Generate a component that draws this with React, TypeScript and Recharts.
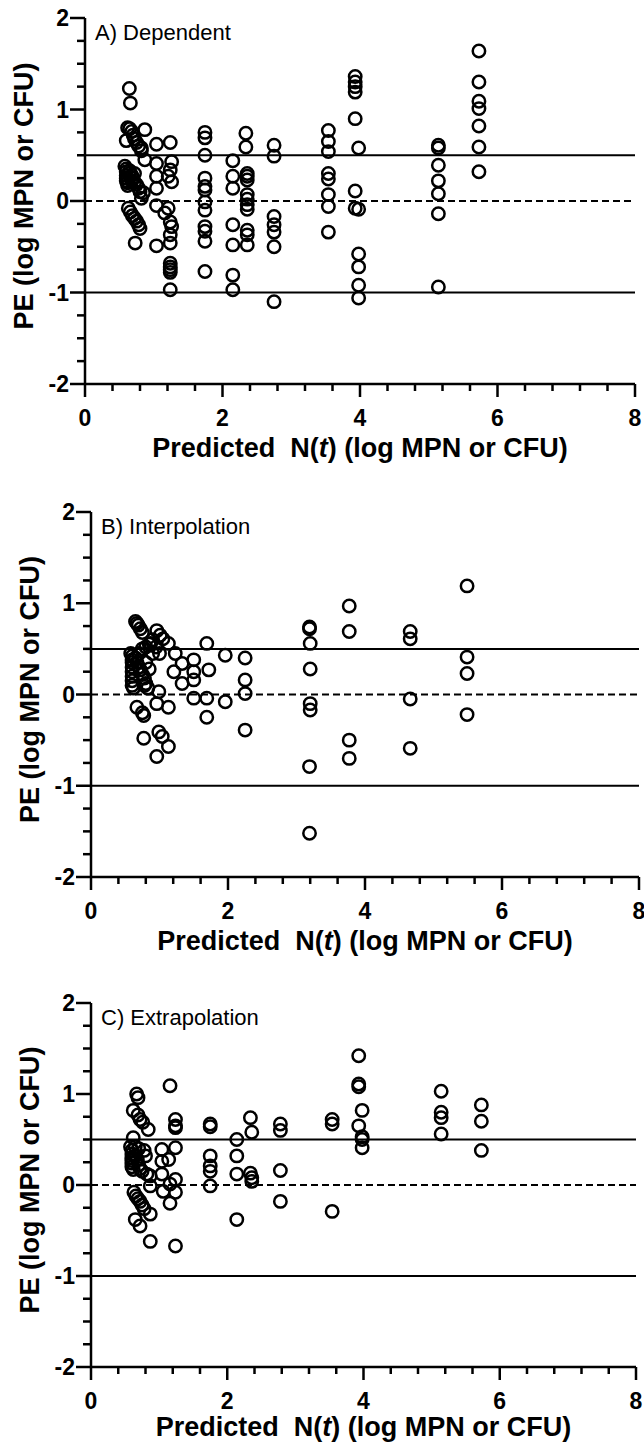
import React from "react";
import {
  Label,
  ReferenceLine,
  Scatter,
  ScatterChart,
  XAxis,
  YAxis,
} from "recharts";

// [predicted N(t), PE]
const dependent: number[][] = [
  [0.645, 1.23], [0.66, 1.07],
  [0.62, 0.8], [0.65, 0.79], [0.68, 0.76], [0.7, 0.72], [0.72, 0.68], [0.75, 0.64], [0.6, 0.66], [0.78, 0.6], [0.82, 0.55], [0.87, 0.78], [0.82, 0.58],
  [1.04, 0.62], [1.24, 0.64],
  [0.58, 0.38], [0.6, 0.35], [0.6, 0.32], [0.6, 0.28], [0.6, 0.25], [0.6, 0.22], [0.62, 0.2], [0.62, 0.17], [0.65, 0.33], [0.65, 0.3], [0.68, 0.28], [0.7, 0.25], [0.72, 0.2], [0.75, 0.18], [0.78, 0.14], [0.8, 0.1], [0.72, 0.3], [0.68, 0.22],
  [0.87, 0.45], [1.04, 0.41], [1.26, 0.43], [1.24, 0.34], [1.04, 0.27], [1.21, 0.27], [1.26, 0.21], [1.04, 0.14], [0.85, 0.09], [0.82, 0.03],
  [1.04, -0.05], [1.21, -0.08],
  [0.63, -0.08], [0.66, -0.12], [0.69, -0.16], [0.72, -0.19], [0.75, -0.22], [0.78, -0.26], [0.8, -0.3],
  [1.16, -0.13], [1.24, -0.23], [1.26, -0.28], [1.24, -0.37], [0.73, -0.46], [1.04, -0.49], [1.24, -0.46],
  [1.24, -0.68], [1.24, -0.72], [1.24, -0.75], [1.24, -0.78], [1.24, -0.97],
  [1.745, 0.75], [1.745, 0.69], [1.745, 0.5], [1.745, 0.25], [1.745, 0.16], [1.745, 0.12], [1.745, -0.01], [1.745, -0.1], [1.745, -0.28], [1.745, -0.33], [1.745, -0.44], [1.745, -0.77],
  [2.15, 0.44], [2.15, 0.27], [2.15, 0.14], [2.15, -0.26], [2.15, -0.48], [2.15, -0.81], [2.15, -0.97],
  [2.34, 0.74], [2.34, 0.59], [2.36, 0.3], [2.36, 0.27], [2.36, 0.23], [2.36, 0.07], [2.36, 0.02], [2.36, -0.04], [2.36, -0.09], [2.36, -0.32], [2.36, -0.37], [2.36, -0.48],
  [2.75, 0.61], [2.75, 0.49], [2.75, -0.17], [2.75, -0.26], [2.75, -0.34], [2.75, -0.5], [2.75, -1.1],
  [3.54, 0.77], [3.54, 0.65], [3.54, 0.54], [3.54, 0.3], [3.54, 0.24], [3.54, 0.07], [3.54, -0.06], [3.54, -0.34],
  [3.93, 1.36], [3.93, 1.3], [3.93, 1.25], [3.93, 1.19], [3.93, 0.9], [3.98, 0.58], [3.93, 0.11], [3.93, -0.08], [3.98, -0.09], [3.98, -0.58], [3.98, -0.72], [3.98, -0.92], [3.98, -1.06],
  [5.14, 0.61], [5.14, 0.58], [5.14, 0.39], [5.14, 0.22], [5.14, 0.08], [5.14, -0.14], [5.14, -0.94],
  [5.73, 1.64], [5.73, 1.3], [5.73, 1.09], [5.73, 1.01], [5.73, 0.82], [5.73, 0.59], [5.73, 0.32],
];

const interpolation: number[][] = [
  [0.65, 0.8], [0.67, 0.78], [0.69, 0.76], [0.72, 0.72], [0.75, 0.68],
  [0.96, 0.7], [1.01, 0.65], [1.05, 0.61], [1.13, 0.56], [0.87, 0.56], [1.69, 0.56], [1.23, 0.45], [1.96, 0.43], [2.25, 0.4],
  [0.58, 0.45], [0.6, 0.42], [0.6, 0.38], [0.6, 0.35], [0.6, 0.3], [0.6, 0.25], [0.6, 0.2], [0.6, 0.15], [0.6, 0.1], [0.62, 0.07], [0.65, 0.4], [0.67, 0.35], [0.7, 0.3], [0.72, 0.27], [0.75, 0.22], [0.78, 0.18], [0.8, 0.12], [0.83, 0.07], [0.7, 0.45], [0.75, 0.5], [0.8, 0.52], [0.85, 0.55], [0.9, 0.6], [0.8, 0.35], [0.9, 0.45], [0.95, 0.52], [1.0, 0.45], [0.85, 0.28], [0.78, 0.1],
  [1.33, 0.34], [1.5, 0.38], [1.72, 0.27], [1.21, 0.25], [1.5, 0.25], [1.33, 0.12], [1.5, 0.16], [2.25, 0.16], [2.25, 0.01], [0.99, 0.03], [1.5, -0.04], [1.69, -0.04], [1.96, -0.08], [0.96, -0.1], [1.13, -0.14], [0.67, -0.14], [0.77, -0.23], [0.75, -0.2], [1.69, -0.25], [2.25, -0.39], [0.77, -0.48], [0.99, -0.41], [1.04, -0.46], [1.13, -0.57], [0.96, -0.68],
  [3.19, 0.74], [3.19, 0.72], [3.2, 0.56], [3.2, 0.28], [3.2, -0.1], [3.2, -0.17], [3.19, -0.79], [3.19, -1.52],
  [3.77, 0.97], [3.77, 0.69], [3.77, -0.5], [3.77, -0.7],
  [4.66, 0.69], [4.66, 0.61], [4.66, -0.05], [4.66, -0.59],
  [5.49, 1.19], [5.49, 0.41], [5.49, 0.23], [5.49, -0.22],
];

const extrapolation: number[][] = [
  [1.16, 1.09], [0.67, 1.0], [0.69, 0.96], [0.62, 0.82], [0.69, 0.77], [0.72, 0.72], [0.76, 0.69], [0.84, 0.61], [1.24, 0.72], [1.24, 0.65], [1.24, 0.63], [1.75, 0.67], [1.75, 0.64], [2.34, 0.74], [2.36, 0.58], [2.14, 0.5], [0.62, 0.52],
  [0.58, 0.42], [0.6, 0.38], [0.6, 0.34], [0.6, 0.3], [0.6, 0.27], [0.6, 0.24], [0.6, 0.2], [0.62, 0.17], [0.65, 0.32], [0.68, 0.28], [0.7, 0.22], [0.72, 0.18], [0.75, 0.15], [0.78, 0.38], [0.8, 0.32], [0.82, 0.12], [0.65, 0.42], [0.7, 0.4],
  [1.04, 0.39], [1.24, 0.41], [1.75, 0.32], [2.14, 0.32], [1.14, 0.28], [1.04, 0.26], [1.75, 0.21], [1.75, 0.15], [1.04, 0.12], [2.14, 0.12], [2.34, 0.13], [2.36, 0.08], [2.36, 0.04], [0.87, 0.1], [0.87, -0.01], [1.24, 0.06], [1.16, 0.01], [1.75, -0.01], [1.06, -0.07], [1.24, -0.08], [1.16, -0.2],
  [0.63, -0.08], [0.66, -0.12], [0.69, -0.15], [0.72, -0.18], [0.75, -0.22], [0.78, -0.26],
  [0.87, -0.32], [0.65, -0.38], [0.72, -0.45], [2.14, -0.38], [0.87, -0.62], [1.24, -0.67],
  [2.78, 0.67], [2.78, 0.6], [2.78, 0.16], [2.78, -0.18],
  [3.54, 0.72], [3.54, 0.67], [3.54, -0.29],
  [3.93, 1.42], [3.93, 1.11], [3.93, 1.08], [3.98, 0.82], [3.93, 0.65], [3.98, 0.53], [3.98, 0.5], [3.98, 0.41],
  [5.14, 1.03], [5.14, 0.8], [5.14, 0.74], [5.14, 0.56],
  [5.73, 0.88], [5.73, 0.7], [5.73, 0.38],
];

const xTicks = [0, 0.4, 0.8, 1.2, 1.6, 2, 2.4, 2.8, 3.2, 3.6, 4, 4.4, 4.8, 5.2, 5.6, 6, 6.4, 6.8, 7.2, 7.6, 8];
const xMajor = [0, 2, 4, 6, 8];
const yTicks = [-2, -1.75, -1.5, -1.25, -1, -0.75, -0.5, -0.25, 0, 0.25, 0.5, 0.75, 1, 1.25, 1.5, 1.75, 2];
const yMajor = [-2, -1, 0, 1, 2];
const limitLines = [0.5, -1];
const zeroLine = 0;

const FONT = '"Liberation Sans", Arial, Helvetica, sans-serif';

const XTick = (p: any) => {
  const v = p.payload.value;
  const major = xMajor.includes(v);
  return (
    <g>
      <line x1={p.x} x2={p.x} y1={p.y} y2={p.y + (major ? 13 : 7)} stroke="#000" strokeWidth={2.5} />
      {major && (
        <text x={p.x} y={p.y + 42} textAnchor="middle" fontSize={23} fontWeight="bold" fontFamily={FONT} fill="#000">
          {v}
        </text>
      )}
    </g>
  );
};

const YTick = (p: any) => {
  const v = p.payload.value;
  const major = yMajor.includes(v);
  return (
    <g>
      <line x1={p.x - (major ? 15 : 8)} x2={p.x} y1={p.y} y2={p.y} stroke="#000" strokeWidth={2.5} />
      {major && (
        <text x={p.x - 16} y={p.y + 8} textAnchor="end" fontSize={23} fontWeight="bold" fontFamily={FONT} fill="#000">
          {v}
        </text>
      )}
    </g>
  );
};

const dot = (p: any) => (
  <circle cx={p.cx} cy={p.cy} r={6.2} fill="none" stroke="#000" strokeWidth={2.5} />
);

type PanelProps = {
  points: number[][];
  title: string;
  top: number;
  height: number;
  titleGap: number;
  margin: { top: number; right: number; bottom: number; left: number };
};

function Panel({ points, title, top, height, titleGap, margin }: PanelProps) {
  const data = points.map(([x, y]) => ({ x, y }));

  const yTitle = (p: any) => {
    const vb = p.viewBox;
    const ax = vb.x + vb.width;
    const cy = vb.y + vb.height / 2 - 5;
    return (
      <g>
        <text
          x={ax - 61}
          y={cy}
          transform={`rotate(-90, ${ax - 61}, ${cy})`}
          textAnchor="middle"
          dominantBaseline="central"
          fontSize={27}
          fontWeight="bold"
          fontFamily={FONT}
          fill="#000"
        >
          PE (log MPN or CFU)
        </text>
        <text x={ax + 10} y={vb.y + 22} fontSize={22} fontFamily={FONT} fill="#000">
          {title}
        </text>
      </g>
    );
  };

  const xTitle = (p: any) => {
    const vb = p.viewBox;
    return (
      <text
        x={vb.x + vb.width / 2}
        y={vb.y + titleGap}
        textAnchor="middle"
        fontSize={27}
        fontWeight="bold"
        fontFamily={FONT}
        fill="#000"
        style={{ whiteSpace: "pre" }}
      >
        {"Predicted  N("}
        <tspan fontStyle="italic">t</tspan>
        {") (log MPN or CFU)"}
      </text>
    );
  };

  return (
    <div style={{ position: "absolute", left: 0, top }}>
      <ScatterChart width={644} height={height} margin={margin}>
        <XAxis
          type="number"
          dataKey="x"
          domain={[0, 8]}
          ticks={xTicks}
          interval={0}
          allowDataOverflow
          height={60}
          tickLine={false}
          tickSize={0}
          tickMargin={0}
          tick={XTick}
          axisLine={{ stroke: "#000", strokeWidth: 2.5 }}
          label={<Label content={xTitle} />}
        />
        <YAxis
          type="number"
          dataKey="y"
          domain={[-2, 2]}
          ticks={yTicks}
          interval={0}
          allowDataOverflow
          width={60}
          tickLine={false}
          tickSize={0}
          tickMargin={0}
          tick={YTick}
          axisLine={{ stroke: "#000", strokeWidth: 2.5 }}
          label={<Label content={yTitle} />}
        />
        {limitLines.map((v) => (
          <ReferenceLine key={v} y={v} stroke="#000" strokeWidth={2} />
        ))}
        <ReferenceLine y={zeroLine} stroke="#000" strokeWidth={2} strokeDasharray="7 4" />
        <Scatter data={data} shape={dot} isAnimationActive={false} />
      </ScatterChart>
    </div>
  );
}

export default function App() {
  return (
    <div style={{ position: "absolute", left: 0, top: 0, width: 644, height: 1443, background: "#fff" }}>
      <Panel points={dependent} title="A) Dependent" top={0} height={480} titleGap={73} margin={{ top: 18, right: 9, bottom: 36, left: 25 }} />
      <Panel points={interpolation} title="B) Interpolation" top={480} height={480} titleGap={73} margin={{ top: 32, right: 5, bottom: 23, left: 31 }} />
      <Panel points={extrapolation} title="C) Extrapolation" top={960} height={483} titleGap={69} margin={{ top: 43, right: 8, bottom: 16, left: 31 }} />
    </div>
  );
}
